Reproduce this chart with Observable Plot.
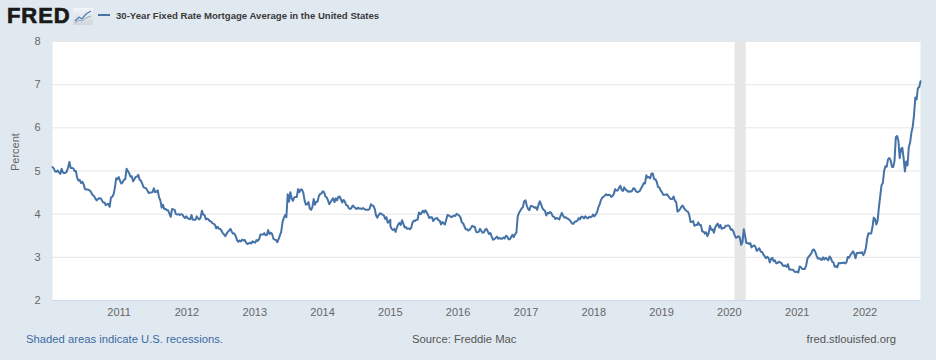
<!DOCTYPE html>
<html>
<head>
<meta charset="utf-8">
<script src="https://cdn.jsdelivr.net/npm/d3@7"></script>
<script src="https://cdn.jsdelivr.net/npm/@observablehq/plot@0.6"></script>
<style>
  html, body { margin: 0; padding: 0; }
  body { width: 936px; height: 360px; background: #e1e9f0; position: relative; overflow: hidden; font-family: "Liberation Sans", Arial, sans-serif; }
  #logo { position: absolute; left: 7px; top: 3px; font-size: 22px; font-weight: bold; color: #1a1a1a; letter-spacing: 0.9px; -webkit-text-stroke: 0.7px #1a1a1a; }
  #icon { position: absolute; left: 73px; top: 8px; }
  #legend { position: absolute; left: 98px; top: 10px; font-size: 9.6px; font-weight: bold; color: #3a3a3a; white-space: nowrap; }
  #legend .swatch { display: inline-block; width: 12px; height: 2px; background: #4572a7; vertical-align: middle; margin-right: 6px; position: relative; top: -1px; }
  #chart { position: absolute; left: 0; top: 30px; }
  .foot { position: absolute; top: 333px; font-size: 11.25px; color: #555; white-space: nowrap; }
  #f1 { left: 26px; color: #3a6aa5; }
  #f2 { left: 412px; }
  #f3 { right: 40px; }
</style>
</head>
<body>
<div id="logo">FRED</div>
<svg id="icon" width="20" height="17" viewBox="0 0 20 17">
  <defs><linearGradient id="g" x1="0" y1="0" x2="0" y2="1"><stop offset="0" stop-color="#f4f6f8"/><stop offset="1" stop-color="#cfd6dd"/></linearGradient></defs>
  <rect x="0" y="0" width="20" height="17" rx="1" fill="url(#g)"/>
  <polyline points="2,13 6,9 9,11 13,6 18,3" fill="none" stroke="#4f7fbf" stroke-width="1.3"/>
  <polyline points="2,15 6,12 9,13 13,10 18,8" fill="none" stroke="#9aa7b3" stroke-width="1"/>
</svg>
<div id="legend"><span class="swatch"></span>30-Year Fixed Rate Mortgage Average in the United States</div>
<div id="chart"></div>
<div class="foot" id="f1">Shaded areas indicate U.S. recessions.</div>
<div class="foot" id="f2">Source: Freddie Mac</div>
<div class="foot" id="f3">fred.stlouisfed.org</div>
<script>
// Weekly 30-year fixed mortgage rates (percent), one array per year, starting first Thursday of each year
const rates2010 = [5.09,5.06,4.99,4.98,5.01,4.97,4.93,5.05,4.97,4.95,4.96,4.99,5.08,5.21,5.07,5.07,5.06,5.00,5.00,4.84,4.78,4.79,4.72,4.75,4.69,4.58,4.57,4.57,4.56,4.54,4.49,4.44,4.42,4.36,4.32,4.35,4.37,4.37,4.32,4.27,4.27,4.21,4.23,4.24,4.17,4.39,4.40,4.46,4.61,4.83,4.81,4.86];
const rates2011 = [4.77,4.71,4.74,4.80,4.81,5.05,5.00,4.95,4.87,4.88,4.76,4.81,4.86,4.87,4.91,4.80,4.78,4.71,4.63,4.61,4.60,4.55,4.49,4.50,4.50,4.51,4.60,4.51,4.52,4.55,4.39,4.32,4.15,4.22,4.12,4.12,4.09,4.09,4.01,3.94,4.12,4.11,4.10,4.00,3.99,4.00,3.98,4.00,3.99,3.94,3.91,3.95];
const rates2012 = [3.91,3.89,3.88,3.98,3.87,3.87,3.87,3.95,3.90,3.88,3.92,4.08,3.99,3.98,3.88,3.90,3.88,3.84,3.83,3.79,3.78,3.75,3.67,3.71,3.66,3.66,3.62,3.56,3.53,3.49,3.55,3.59,3.62,3.66,3.59,3.55,3.55,3.49,3.40,3.36,3.39,3.37,3.41,3.39,3.40,3.34,3.31,3.32,3.34,3.32,3.37,3.35];
const rates2013 = [3.34,3.40,3.38,3.42,3.53,3.53,3.53,3.56,3.51,3.52,3.63,3.54,3.57,3.54,3.43,3.41,3.40,3.35,3.42,3.51,3.59,3.81,3.91,3.98,3.93,4.46,4.29,4.51,4.37,4.31,4.39,4.40,4.40,4.58,4.51,4.57,4.57,4.50,4.32,4.22,4.23,4.28,4.13,4.10,4.16,4.35,4.22,4.29,4.29,4.42,4.47,4.48];
const rates2014 = [4.53,4.51,4.41,4.39,4.32,4.23,4.28,4.33,4.37,4.28,4.37,4.32,4.40,4.41,4.34,4.27,4.33,4.29,4.21,4.20,4.14,4.12,4.14,4.20,4.17,4.14,4.12,4.15,4.13,4.13,4.12,4.14,4.12,4.10,4.10,4.10,4.12,4.23,4.20,4.19,4.12,3.97,3.92,3.98,4.02,4.01,3.99,3.97,3.89,3.93,3.80,3.83,3.87];
const rates2015 = [3.73,3.66,3.63,3.66,3.59,3.69,3.76,3.80,3.75,3.86,3.78,3.69,3.70,3.66,3.67,3.65,3.68,3.80,3.85,3.84,3.87,3.87,4.04,4.00,4.02,4.08,4.04,4.09,4.04,3.98,3.91,3.93,3.93,3.84,3.89,3.90,3.91,3.86,3.85,3.76,3.82,3.79,3.76,3.87,3.98,3.97,3.95,3.93,3.95,3.97,3.96,4.01];
const rates2016 = [3.97,3.92,3.81,3.79,3.72,3.65,3.65,3.62,3.64,3.68,3.73,3.71,3.71,3.59,3.58,3.59,3.66,3.61,3.57,3.58,3.64,3.66,3.60,3.54,3.56,3.48,3.41,3.42,3.45,3.48,3.43,3.45,3.43,3.43,3.46,3.44,3.50,3.48,3.42,3.42,3.47,3.52,3.47,3.54,3.57,3.94,4.03,4.08,4.13,4.16,4.30,4.32];
const rates2017 = [4.20,4.12,4.09,4.19,4.19,4.17,4.15,4.16,4.10,4.21,4.30,4.23,4.14,4.10,4.08,3.97,4.03,4.02,4.05,4.02,3.95,3.94,3.89,3.91,3.90,3.88,3.96,4.03,3.96,3.92,3.93,3.90,3.89,3.86,3.82,3.78,3.78,3.83,3.83,3.85,3.91,3.88,3.94,3.94,3.90,3.95,3.92,3.90,3.94,3.93,3.94,3.99];
const rates2018 = [3.95,3.99,4.04,4.15,4.22,4.32,4.38,4.40,4.43,4.46,4.44,4.45,4.44,4.40,4.42,4.47,4.58,4.55,4.55,4.61,4.66,4.56,4.54,4.62,4.57,4.55,4.52,4.53,4.52,4.54,4.60,4.59,4.53,4.51,4.52,4.54,4.60,4.65,4.72,4.71,4.90,4.85,4.86,4.83,4.94,4.94,4.81,4.81,4.75,4.63,4.62,4.55];
const rates2019 = [4.51,4.45,4.45,4.45,4.46,4.41,4.37,4.35,4.35,4.41,4.31,4.28,4.06,4.08,4.12,4.17,4.20,4.14,4.10,4.07,4.06,3.99,3.82,3.82,3.84,3.73,3.75,3.75,3.81,3.75,3.75,3.60,3.60,3.55,3.58,3.49,3.56,3.73,3.64,3.65,3.57,3.69,3.75,3.78,3.69,3.75,3.66,3.68,3.68,3.73,3.73,3.74];
const rates2020 = [3.72,3.64,3.65,3.60,3.51,3.45,3.47,3.49,3.45,3.29,3.36,3.65,3.50,3.33,3.33,3.31,3.33,3.23,3.26,3.28,3.24,3.15,3.18,3.21,3.13,3.13,3.07,3.03,2.98,3.01,2.99,2.88,2.96,2.99,2.91,2.93,2.86,2.87,2.90,2.88,2.87,2.81,2.80,2.81,2.78,2.84,2.72,2.72,2.71,2.71,2.67,2.66,2.67];
const rates2021 = [2.65,2.79,2.77,2.73,2.73,2.73,2.81,2.97,3.02,3.05,3.09,3.17,3.18,3.13,3.04,2.97,2.98,2.96,2.94,3.00,2.95,2.99,2.96,2.93,3.02,2.98,2.90,2.88,2.78,2.80,2.77,2.87,2.86,2.87,2.87,2.88,2.86,2.88,3.01,2.99,3.05,3.09,3.14,3.09,2.98,3.10,3.10,3.11,3.10,3.12,3.05,3.11];
const rates2022 = [3.22,3.45,3.56,3.55,3.55,3.69,3.92,3.89,3.76,3.85,4.16,4.42,4.67,4.72,5.00,5.11,5.10,5.27,5.30,5.25,5.10,5.09,5.23,5.78,5.81,5.70,5.30,5.51,5.54,5.30,4.99,5.22,5.13,5.55,5.66,5.89,6.02,6.29,6.70,6.66,6.92,6.94,7.08];

const years = [2010,2011,2012,2013,2014,2015,2016,2017,2018,2019,2020,2021,2022];
const ratesByYear = [rates2010,rates2011,rates2012,rates2013,rates2014,rates2015,rates2016,rates2017,rates2018,rates2019,rates2020,rates2021,rates2022];

const recessionStart = "2020-02-01";
const recessionEnd = "2020-04-01";
const yTicks = [2,3,4,5,6,7,8];
const xTickYears = [2011,2012,2013,2014,2015,2016,2017,2018,2019,2020,2021,2022];
const xDomain = ["2010-01-07","2022-10-27"];

// build table
const data = [];
years.forEach((yr, i) => {
  const first = d3.timeThursday.ceil(new Date(yr, 0, 1));
  ratesByYear[i].forEach((v, k) => {
    data.push({date: d3.timeDay.offset(first, 7 * k), rate: v});
  });
});
const recession = [{x1: new Date(recessionStart), x2: new Date(recessionEnd)}];
const xTicks = xTickYears.map(y => new Date(y, 0, 1));

const chart = Plot.plot({
  width: 936,
  height: 300,
  marginTop: 11,
  marginBottom: 30,
  marginLeft: 52,
  marginRight: 16,
  style: {background: "transparent", color: "#666", fontFamily: "Liberation Sans, Arial, sans-serif", fontSize: "11px"},
  x: {type: "time", domain: xDomain.map(d => new Date(d)), axis: null},
  y: {domain: [2, 8], axis: null},
  marks: [
    Plot.frame({fill: "white", stroke: null}),
    Plot.rect(recession, {x1: "x1", x2: "x2", fill: "#e6e6e6"}),
    Plot.ruleY(yTicks.filter(d => d > 2), {stroke: "#e6e6e6", strokeWidth: 1}),
    Plot.ruleY([2], {stroke: "#ccd6eb", strokeWidth: 1}),
    Plot.axisX(xTicks, {tickSize: 6, stroke: "#dde4ee", tickFormat: () => "", label: null}),
    Plot.axisX(xTicks, {tickSize: 0, tickPadding: 8, tickFormat: d3.timeFormat("%Y"), fill: "#666", label: null, fontSize: 11}),
    Plot.axisY(yTicks, {tickSize: 0, tickPadding: 12, fill: "#666", label: null, fontSize: 11}),
    Plot.text(["Percent"], {frameAnchor: "left", rotate: -90, dx: -37, fill: "#666", fontSize: 11}),
    Plot.line(data, {x: "date", y: "rate", stroke: "#4572a7", strokeWidth: 2, strokeLinejoin: "round"})
  ]
});
document.getElementById("chart").appendChild(chart);
</script>
</body>
</html>
